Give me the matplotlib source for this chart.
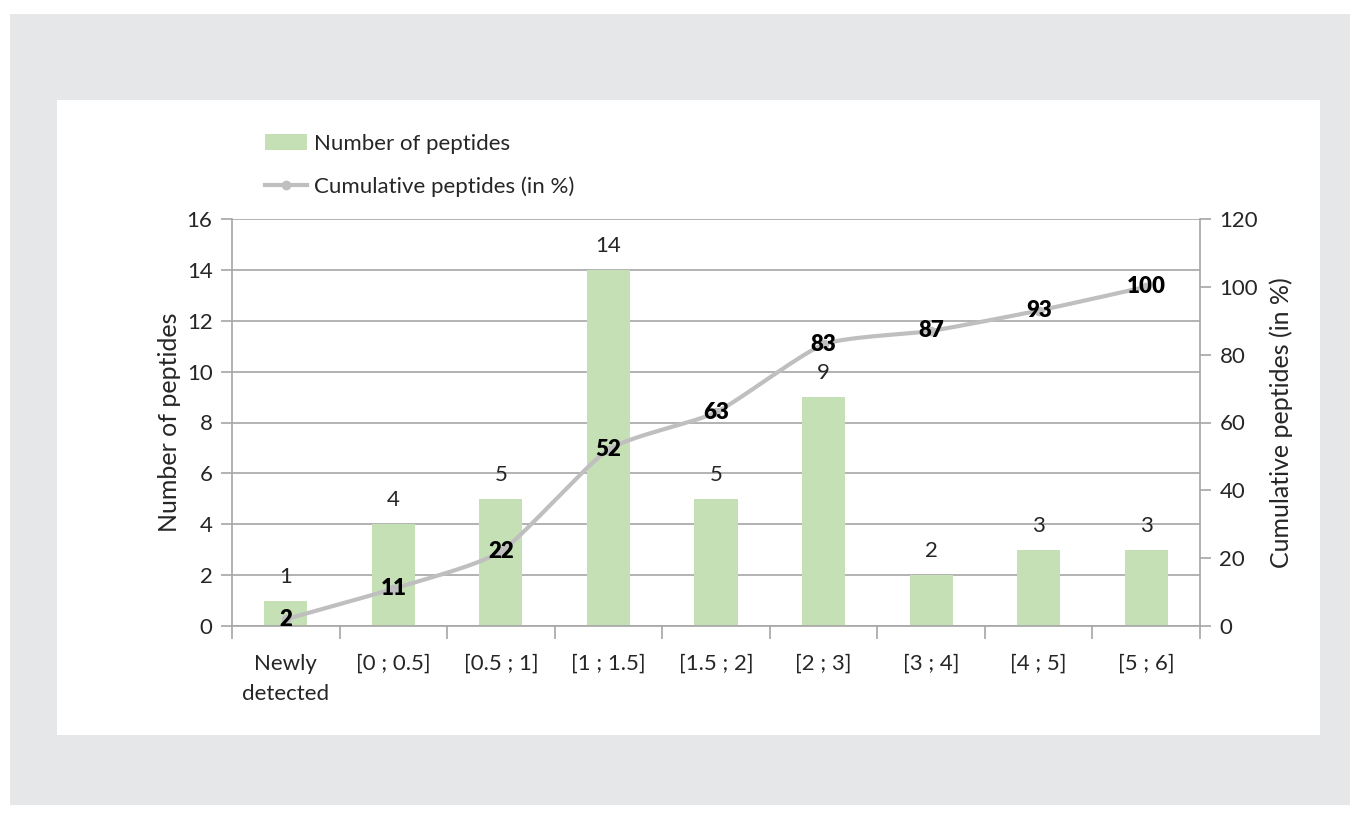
import numpy as np
import matplotlib
matplotlib.use("Agg")
import matplotlib.pyplot as plt
from matplotlib.patches import Rectangle
from matplotlib.lines import Line2D

categories = ["Newly\ndetected", "[0 ; 0.5]", "[0.5 ; 1]", "[1 ; 1.5]", "[1.5 ; 2]",
              "[2 ; 3]", "[3 ; 4]", "[4 ; 5]", "[5 ; 6]"]
n_peptides = [1, 4, 5, 14, 5, 9, 2, 3, 3]
cumulative = [2, 11, 22, 52, 63, 83, 87, 93, 100]

plt.rcParams['font.family'] = ['Lato', 'DejaVu Sans']
bar_col = '#c4e0b4'
line_col = '#bfbfbf'
grid_col = '#a6a6a6'
txt_col = '#262626'


def smooth(x, y, n=30):
    # Catmull-Rom style smoothing, like Excel's smoothed line
    x = np.asarray(x, float)
    y = np.asarray(y, float)
    px = np.concatenate([[2 * x[0] - x[1]], x, [2 * x[-1] - x[-2]]])
    py = np.concatenate([[2 * y[0] - y[1]], y, [2 * y[-1] - y[-2]]])
    xs, ys = [], []
    for i in range(1, len(px) - 2):
        t = np.linspace(0, 1, n)
        for p, out in ((px, xs), (py, ys)):
            p0, p1, p2, p3 = p[i - 1], p[i], p[i + 1], p[i + 2]
            m1 = (p2 - p0) / 2 * 0.6
            m2 = (p3 - p1) / 2 * 0.6
            h00 = 2 * t**3 - 3 * t**2 + 1
            h10 = t**3 - 2 * t**2 + t
            h01 = -2 * t**3 + 3 * t**2
            h11 = t**3 - t**2
            out.extend(h00 * p1 + h10 * m1 + h01 * p2 + h11 * m2)
    return np.array(xs), np.array(ys)


fig = plt.figure(figsize=(13.59, 8.15), dpi=100)
fig.patch.set_facecolor('white')
fig.patches.append(Rectangle((10 / 1359, 1 - 805 / 815), 1340 / 1359, 791 / 815,
                             transform=fig.transFigure, facecolor='#e6e7e8',
                             edgecolor='none', zorder=-2))
fig.patches.append(Rectangle((57 / 1359, 1 - 735 / 815), 1263 / 1359, 635 / 815,
                             transform=fig.transFigure, facecolor='white',
                             edgecolor='none', zorder=-1))

ax = fig.add_axes([232 / 1359, 1 - 626 / 815, 968 / 1359, 407 / 815])
ax.set_facecolor('none')
x = np.arange(len(categories))
ax.bar(x, n_peptides, width=0.4, color=bar_col, zorder=2)
for xi, v in zip(x, n_peptides):
    ax.text(xi, v + 0.55, str(v), ha='center', va='bottom', fontsize=16, color=txt_col)

ax.set_xlim(-0.5, len(categories) - 0.5)
ax.set_ylim(0, 16)
ax.set_yticks(range(0, 17, 2))
ax.yaxis.grid(True, color=grid_col, linewidth=1.2)
ax.set_axisbelow(True)
ax.set_xticks(x)
ax.set_xticklabels(categories, fontsize=16, color=txt_col, linespacing=1.65)
ax.set_xticks(np.arange(-0.5, len(categories)), minor=True)
ax.tick_params(axis='x', which='major', length=0, pad=20)
ax.tick_params(axis='x', which='minor', length=9, color=grid_col, width=1.2)
ax.tick_params(axis='y', length=8, color=grid_col, width=1.2, labelsize=16,
               labelcolor=txt_col, pad=6)
for s in ['top', 'right']:
    ax.spines[s].set_visible(False)
for s in ['left', 'bottom']:
    ax.spines[s].set_color(grid_col)
    ax.spines[s].set_linewidth(1.2)
ax.set_ylabel("Number of peptides", fontsize=18, color=txt_col, labelpad=4)

ax2 = ax.twinx()
ax2.set_ylim(0, 120)
ax2.set_yticks(range(0, 121, 20))
sx, sy = smooth(x, cumulative)
ax2.plot(sx, sy, color=line_col, linewidth=3, zorder=3)
ax2.plot(x, cumulative, 'o', color=line_col, markersize=6, zorder=3)
for xi, v in zip(x, cumulative):
    ax2.text(xi, v, str(v), ha='center', va='center', fontsize=16,
             fontweight='heavy', color='black', zorder=4)
ax2.tick_params(axis='y', length=8, color=grid_col, width=1.2, labelsize=16,
                labelcolor=txt_col, pad=6)
for s in ['top', 'left', 'bottom']:
    ax2.spines[s].set_visible(False)
ax2.spines['right'].set_color(grid_col)
ax2.spines['right'].set_linewidth(1.2)
ax2.set_ylabel("Cumulative peptides (in %)", fontsize=18, color=txt_col, labelpad=8)

handles = [Rectangle((0, 0), 1, 1, facecolor=bar_col, edgecolor='none'),
           Line2D([], [], color=line_col, linewidth=3, marker='o', markersize=6)]
fig.legend(handles, ["Number of peptides", "Cumulative peptides (in %)"],
           loc='upper left', bbox_to_anchor=(245 / 1359, 1 - 114 / 815),
           frameon=False, fontsize=16, labelcolor=txt_col, handlelength=1.9,
           handletextpad=0.3, labelspacing=1.0)

fig.savefig("out.png", dpi=100)
